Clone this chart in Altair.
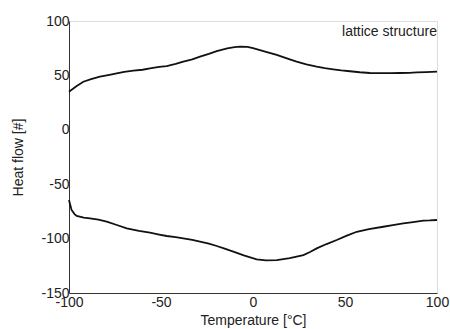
import altair as alt
import pandas as pd

# Upper curve (heating) - temperature [°C] and heat flow
upper_temp = [-100, -96, -92.2, -88, -83.2, -78, -74.1, -70, -65, -60, -56, -51, -46.9, -42, -37.9, -33, -28.8, -24,
              -19.7, -14, -10, -7.1, -3, 0, 3.8, 8, 12.9, 18, 23.7, 29, 34.6, 39, 43.6, 48, 52.7, 58, 63.6, 70, 75,
              79.9, 85, 89, 94, 100]
upper_flow = [35, 40, 44.2, 46.5, 48.8, 50.5, 51.9, 53.2, 54.3, 55.2, 56.5, 57.8, 58.6, 60.5, 62.6, 64.8, 67.2, 69.8,
              72.4, 74.8, 75.9, 76.4, 76.2, 75.0, 73.3, 71.2, 68.8, 65.8, 62.6, 60.2, 58.0, 56.6, 55.6, 54.6, 53.8,
              52.9, 52.2, 52.0, 52.1, 52.2, 52.4, 52.8, 53.0, 53.4]

# Lower curve (cooling)
lower_temp = [-100, -98.6, -97, -95.8, -92, -88.6, -84, -79.5, -74, -68.6, -62, -56, -51, -46.9, -42, -37.9, -33,
              -28.8, -24, -19.7, -15, -10.7, -5, 2, 7, 12.9, 20, 27.4, 31, 34.6, 40, 45.5, 51, 56.4, 63, 70.8, 76,
              81.7, 87, 92.6, 96, 100]
lower_flow = [-64.5, -73.7, -77.5, -79.2, -80.8, -81.4, -82.6, -84.5, -87.5, -90.6, -93.0, -94.6, -96.3, -97.6, -98.6,
              -99.7, -101.2, -102.8, -104.6, -106.8, -109.5, -112, -115.5, -119, -120, -119.7, -118, -115.1, -112.3,
              -109, -105, -101.3, -97.3, -93.7, -91.3, -89.1, -87.6, -86, -84.8, -83.5, -83.3, -82.9]

x_ticks = [-100, -50, 0, 50, 100]
y_ticks = [-150, -100, -50, 0, 50, 100]

df = pd.concat([
    pd.DataFrame({"temp": upper_temp, "flow": upper_flow, "curve": "upper"}),
    pd.DataFrame({"temp": lower_temp, "flow": lower_flow, "curve": "lower"}),
])

FONT = "Liberation Sans"

lines = alt.Chart(df).mark_line(color="#111111", strokeWidth=1.8).encode(
    x=alt.X("temp:Q",
            scale=alt.Scale(domain=[-100, 100], nice=False, zero=False),
            axis=alt.Axis(title="Temperature [°C]", values=x_ticks, ticks=False, grid=False,
                          labelExpr="'' + datum.value",
                          labelPadding=2, labelFontSize=14, labelFont=FONT, labelColor="#222222",
                          labelOverlap=False, labelFlush=False,
                          titleFontSize=14, titleFont=FONT, titleFontWeight="normal", titleColor="#222222",
                          titleX=184, titleY=27, titleBaseline="middle", titleAlign="center",
                          domainColor="#333333", domainWidth=1)),
    y=alt.Y("flow:Q",
            scale=alt.Scale(domain=[-150, 100], nice=False, zero=False),
            axis=alt.Axis(title="Heat flow [#]", values=y_ticks, ticks=False, grid=False,
                          labelExpr="'' + datum.value",
                          labelPadding=0, labelFontSize=14, labelFont=FONT, labelColor="#222222",
                          labelOverlap=False, labelFlush=False, labelBaseline="middle",
                          titleFontSize=14, titleFont=FONT, titleFontWeight="normal", titleColor="#222222",
                          titleX=-51, titleY=136, titleAngle=-90, titleBaseline="middle", titleAlign="center",
                          domainColor="#333333", domainWidth=1)),
    detail="curve:N",
    order=alt.Order("temp:Q"),
)

label = alt.Chart(pd.DataFrame({"t": ["lattice structure"]})).mark_text(
    align="right", baseline="middle", fontSize=14, font=FONT, color="#222222"
).encode(x=alt.value(368), y=alt.value(10.7), text="t:N")

chart = (lines + label).properties(
    width=368, height=272,
    autosize=alt.AutoSizeParams(type="none"),
    padding={"left": 69, "top": 21, "right": 13, "bottom": 36},
).configure_view(stroke=None).configure(background="white")

chart.save("out.html", embed_options={"renderer": "svg", "actions": False})
